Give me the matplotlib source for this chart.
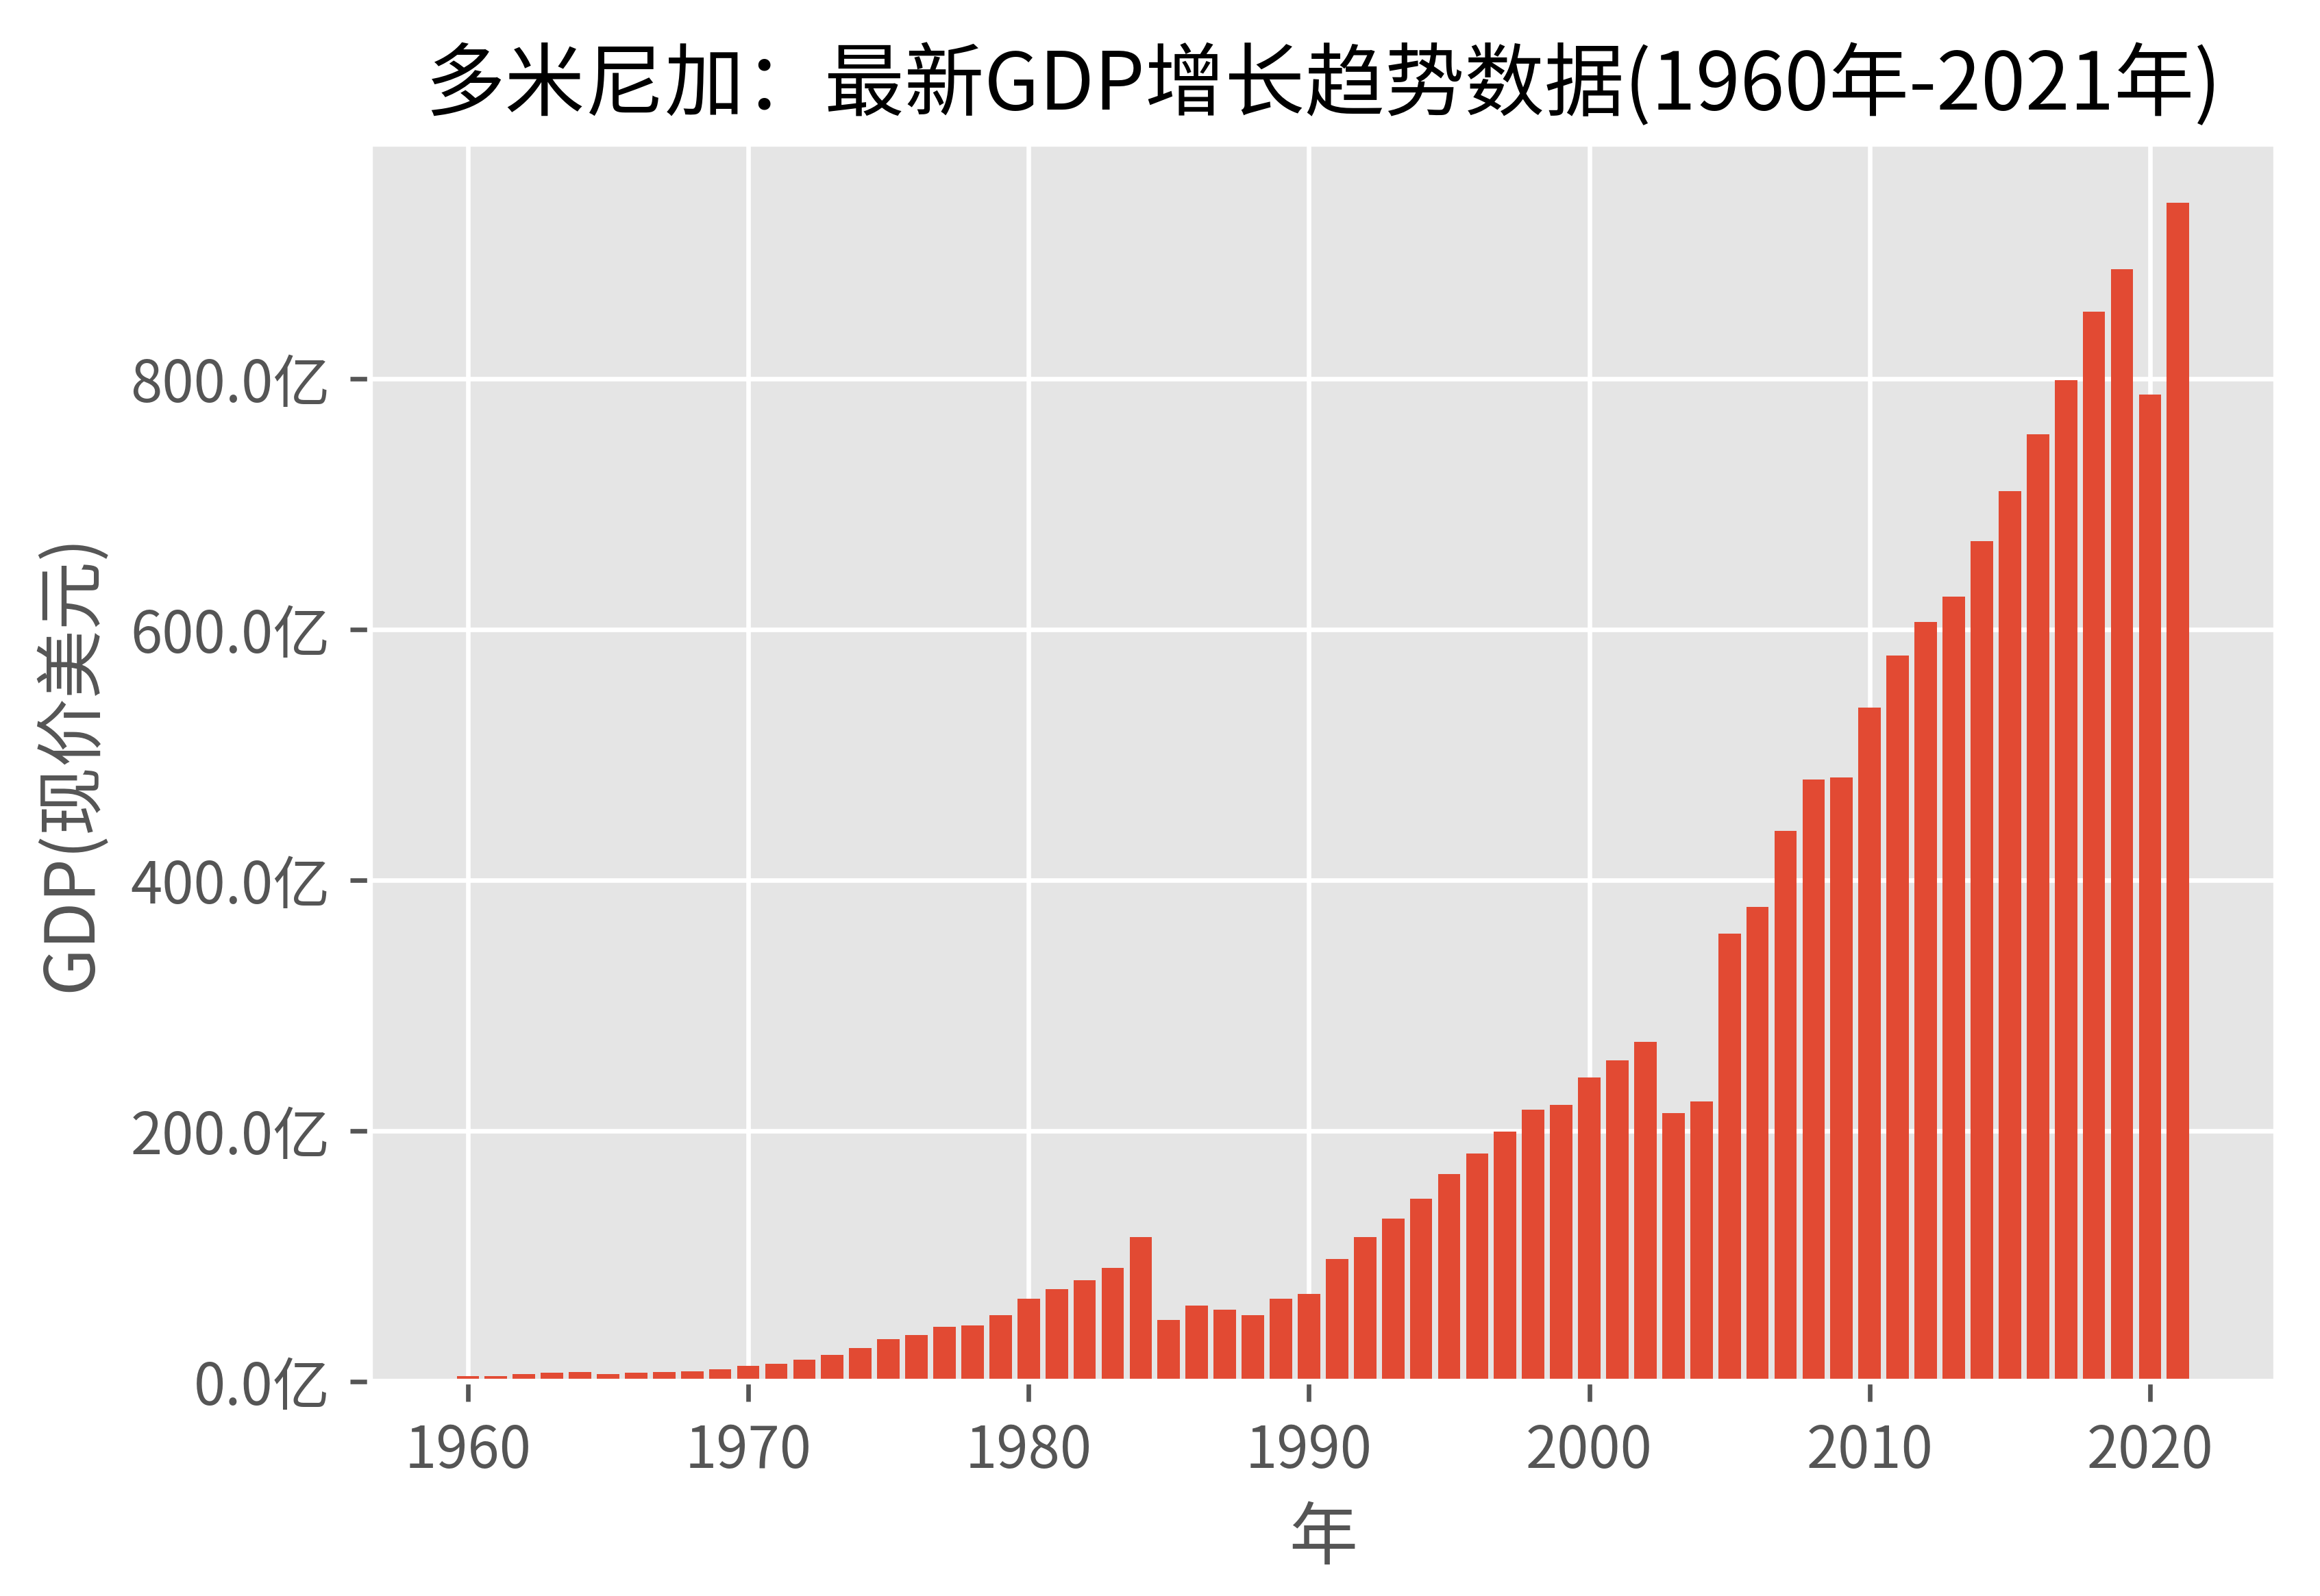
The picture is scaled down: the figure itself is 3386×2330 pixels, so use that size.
import numpy as np
import matplotlib
matplotlib.use("Agg")
import matplotlib.pyplot as plt
from matplotlib.ticker import FuncFormatter

plt.style.use("ggplot")
plt.rcParams["font.family"] = ["Noto Sans CJK SC", "DejaVu Sans"]
plt.rcParams["axes.unicode_minus"] = False

# GDP in 亿 (1e8) current USD
years = list(range(1960, 2022))
gdp = [
    4.2, 4.2, 5.9, 7.0, 7.9, 6.3, 7.4, 7.9, 8.5, 9.8,
    12.6, 14.0, 17.4, 21.2, 26.8, 34.0, 37.3, 43.9, 45.1, 52.8,
    66.1, 73.9, 81.1, 91.0, 115.2, 49.2, 60.7, 57.2, 53.1, 66.0,
    69.8, 97.7, 115.5, 130.2, 145.9, 165.8, 182.2, 199.7, 216.8, 220.9,
    242.9, 256.2, 271.2, 214.0, 223.4, 357.6, 378.7, 439.4, 480.6, 481.9,
    538.0, 579.4, 606.0, 626.0, 670.6, 710.6, 755.6, 798.7, 853.7, 887.5,
    787.5, 940.6,
]

title = "多米尼加：最新GDP增长趋势数据(1960年-2021年)"
xlabel = "年"
ylabel = "GDP(现价美元)"

fig = plt.figure(figsize=(3386 / 600, 2330 / 600), dpi=600)
ax = fig.add_axes([0.1595, 0.1343, 0.8215, 0.7757])

ax.bar(years, gdp, color="#E24A33")

ax.yaxis.set_major_formatter(FuncFormatter(lambda v, pos: f"{v:.1f}亿"))
ax.set_yticks([0, 200, 400, 600, 800])
ax.set_xticks([1960, 1970, 1980, 1990, 2000, 2010, 2020])

ax.set_title(title, fontsize=14.0, color="black")
ax.set_xlabel(xlabel)
ax.set_ylabel(ylabel)

fig.savefig("out.png", dpi=600)
